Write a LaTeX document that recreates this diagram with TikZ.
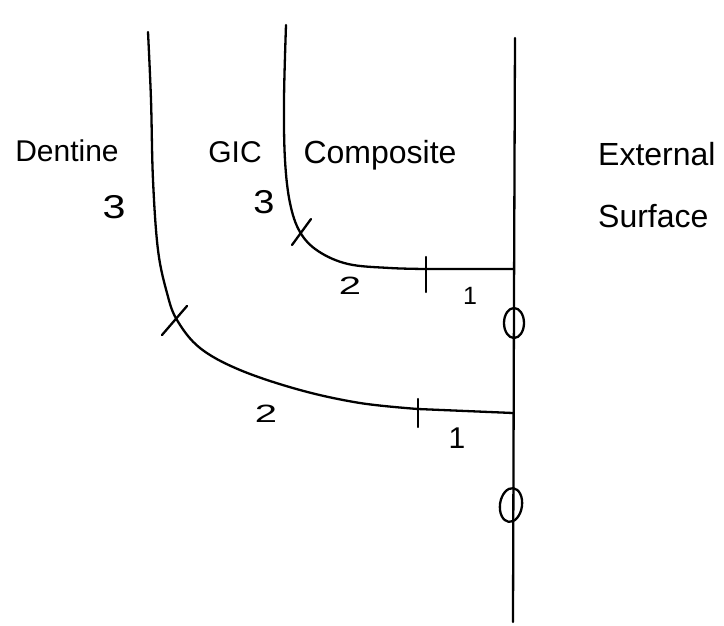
\documentclass[tikz,border=0pt]{standalone}
\usepackage{fontspec}
\setmainfont{Liberation Sans}
\usetikzlibrary{positioning}

\begin{document}
\begin{tikzpicture}[x=1pt, y=-1pt,
        lbl/.style={font=\fontsize{32}{34}\selectfont, inner sep=0pt, anchor=base},
        num/.style={font=\fontsize{25}{27}\selectfont, inner sep=0pt},
        bigl/.style={font=\fontsize{33}{35}\selectfont, inner sep=0pt},
        pen/.style={line width=2.3pt, line cap=round, line join=round}
    ]
        \useasboundingbox (0,0) rectangle (724,625);

        % external surface
        \draw[pen] (515,38) -- (514,300) -- (513,622);

        % dentine / GIC boundary
        \draw[pen] plot[smooth, tension=0.6] coordinates {(148,32) (151,100) (153,180)
            (158,250) (167,293) (177,320) (200,348) (240,370) (300,390)
            (360,403) (418,409)} -- (513,413);
        % GIC / composite boundary
        \draw[pen] plot[smooth, tension=0.6] coordinates {(286,25) (284,100) (285,160)
            (290,203) (300,232) (318,251) (348,264) (390,268) (427,269)} -- (513,269);

        % cross marks and ticks
        \draw[pen] (162,335) -- (187,306);
        \draw[pen] (292,245) -- (311,219);
        \draw[pen] (426,257) -- (426,292);
        \draw[pen] (418,399) -- (418,427);

        % zero marks on the surface
        \draw[pen] (514,323) ellipse[x radius=10, y radius=15];
        \draw[pen, rotate around={-8:(511,505)}] (511,505) ellipse[x radius=11, y radius=17];

        \node[lbl, font=\fontsize{30}{32}\selectfont] (dentine) at (67,161) {Dentine};
        \node[lbl, font=\fontsize{30}{32}\selectfont] (gic) at (235,162) {GIC};
        \node[lbl] (comp) at (380,163) {Composite};
        \node[lbl, anchor=base west] (ext) at (598,165) {External};
        \node[lbl, anchor=base west] (surf) at (598,227) {Surface};

        \node[bigl] (t3a) at (114,207) {\scalebox{1.25}[1]{3}};
        \node[bigl] (t3b) at (264,202) {\scalebox{1.15}[1]{3}};
        \node[num] (t2a) at (350,286) {\scalebox{1.6}[1]{2}};
        \node[num] (t1a) at (470,296) {1};
        \node[num] (t2b) at (266,414) {\scalebox{1.6}[1]{2}};
        \node[num, font=\fontsize{30}{32}\selectfont] (t1b) at (457,438) {1};
    \end{tikzpicture}
\end{document}
